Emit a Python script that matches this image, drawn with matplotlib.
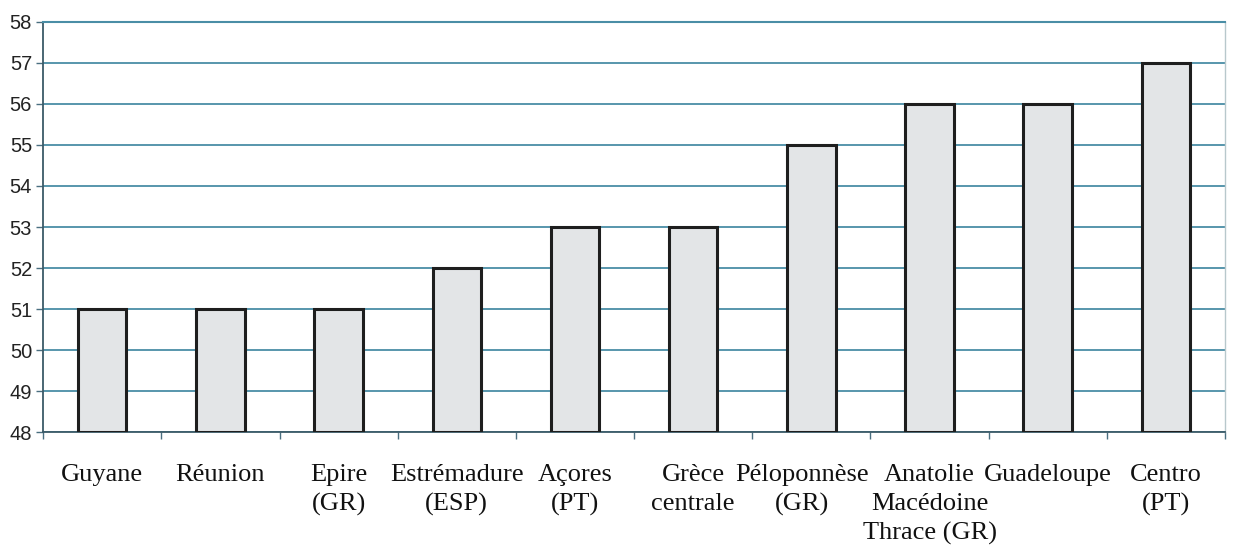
import numpy as np
import matplotlib
matplotlib.use("Agg")
import matplotlib.pyplot as plt

regions = ["Guyane", "Réunion", "Epire\n(GR)", "Estrémadure\n(ESP)", "Açores\n(PT)",
           "Grèce\ncentrale", "Péloponnèse\n(GR)", "Anatolie\nMacédoine\nThrace (GR)",
           "Guadeloupe", "Centro\n(PT)"]
values = [51, 51, 51, 52, 53, 53, 55, 56, 56, 57]
y_ticks = list(range(48, 59))

fig = plt.figure(figsize=(12.33, 5.47), dpi=100)
ax = fig.add_axes([0.035, 0.21, 0.9585, 0.75])

x = np.arange(len(regions))
base = 48
ax.bar(x, [v - base for v in values], bottom=base, width=0.41,
       color='#e3e5e7', edgecolor='#1e1e1e', linewidth=2.2, zorder=3)

ax.set_xlim(-0.5, len(regions) - 0.5)
ax.set_ylim(48, 58)
ax.set_yticks(y_ticks)
ax.set_yticklabels([str(t) for t in y_ticks], family='Liberation Sans',
                   fontsize=14.5, color='#222222')
ax.yaxis.grid(True, color='#4a8ea6', linewidth=1.3, zorder=0)
ax.set_axisbelow(True)

# category labels drawn by hand so crowded ones can be nudged like in the original
ax.set_xticks(np.arange(-0.5, len(regions)))
ax.set_xticklabels([])
ax.tick_params(axis='x', length=5, color='#4a6f80', width=1)
ax.tick_params(axis='y', length=5, color='#4a6f80', width=1, pad=3)
for i, lab in enumerate(regions):
    dx = -7 if i == 6 else 0
    ax.annotate(lab, xy=(i, 0), xycoords=('data', 'axes fraction'),
                xytext=(dx, -23), textcoords='offset points',
                ha='center', va='top', family='Liberation Serif', fontsize=19,
                linespacing=1.4, color='#111111')

for side in ['left', 'bottom']:
    ax.spines[side].set_color('#3b5a68')
    ax.spines[side].set_linewidth(1.3)
ax.spines['top'].set_color('#4a8ea6')
ax.spines['top'].set_linewidth(1.5)
ax.spines['right'].set_color('#b8c8cc')
ax.spines['right'].set_linewidth(1)

fig.savefig("out.png", dpi=100)
